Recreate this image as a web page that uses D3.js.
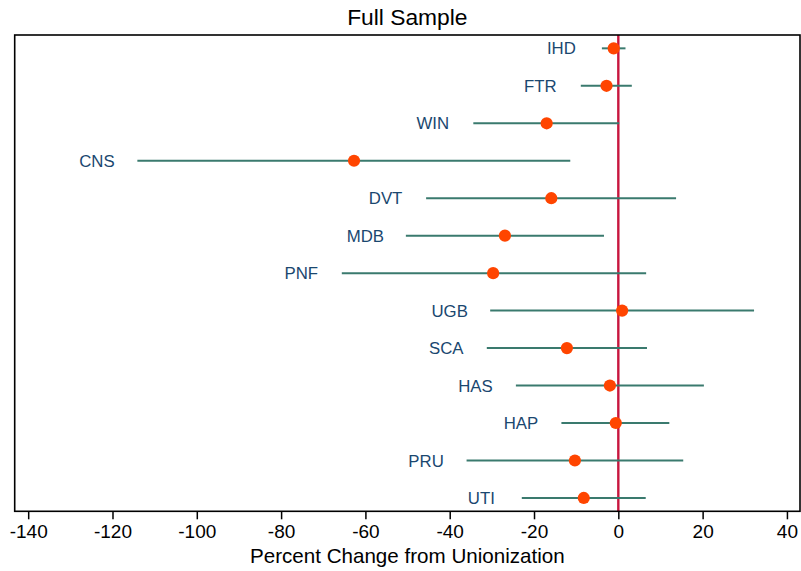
<!DOCTYPE html>
<html>
<head>
<meta charset="utf-8">
<script src="https://cdn.jsdelivr.net/npm/d3@7"></script>
<style>
  html, body { margin: 0; padding: 0; background: #fff; }
  svg { display: block; font-family: "Liberation Sans", Arial, Helvetica, sans-serif; }
</style>
</head>
<body>
<svg id="chart" width="801" height="571"></svg>
<script>
// Data
const outcomes  = ["IHD","FTR","WIN","CNS","DVT","MDB","PNF","UGB","SCA","HAS","HAP","PRU","UTI"];
const estimates = [-1.1, -2.8, -17.0, -62.7, -15.9, -26.9, -29.7, 0.9, -12.2, -2.0, -0.6, -10.3, -8.2];
const lowerCI   = [-3.9, -8.9, -34.4, -114.1, -45.6, -50.4, -65.6, -30.4, -31.2, -24.3, -13.5, -36.0, -22.9];
const upperCI   = [1.7, 3.2, 0.2, -11.4, 13.7, -3.4, 6.6, 32.2, 6.8, 20.3, 12.1, 15.4, 6.5];
const xTicks    = [-140, -120, -100, -80, -60, -40, -20, 0, 20, 40];
const titleText = "Full Sample";
const xLabel    = "Percent Change from Unionization";

const rows = outcomes.map((o, i) => ({ name: o, est: estimates[i], lo: lowerCI[i], hi: upperCI[i] }));

const svg = d3.select("#chart");
const L = 14.7, R = 800, T = 35, B = 511.3;

const x = d3.scaleLinear().domain([-143.2, 43.1]).range([L, R]);
const y = d3.scalePoint().domain(outcomes).range([T, B]).padding(0.356);

// Title
svg.append("text")
  .attr("x", (L + R) / 2).attr("y", 25)
  .attr("text-anchor", "middle")
  .attr("font-size", 22.8).attr("fill", "#000")
  .text(titleText);

// Reference line at zero
svg.append("line")
  .attr("x1", x(0)).attr("x2", x(0))
  .attr("y1", T).attr("y2", B)
  .attr("stroke", "#c8163e").attr("stroke-width", 2.4);

// Confidence intervals
svg.append("g").selectAll("line").data(rows).join("line")
  .attr("x1", d => x(d.lo)).attr("x2", d => x(d.hi))
  .attr("y1", d => y(d.name)).attr("y2", d => y(d.name))
  .attr("stroke", "#3a7a6e").attr("stroke-width", 2);

// Point estimates
svg.append("g").selectAll("circle").data(rows).join("circle")
  .attr("cx", d => x(d.est)).attr("cy", d => y(d.name))
  .attr("r", 6.1).attr("fill", "#ff4500");

// Labels
svg.append("g").selectAll("text").data(rows).join("text")
  .attr("x", d => x(d.lo) - 40.5).attr("y", d => y(d.name))
  .attr("dy", "0.36em")
  .attr("text-anchor", "middle")
  .attr("font-size", 16.8).attr("fill", "#1a476f")
  .text(d => d.name);

// Plot frame
svg.append("rect")
  .attr("x", L).attr("y", T).attr("width", R - L).attr("height", B - T)
  .attr("fill", "none").attr("stroke", "#000").attr("stroke-width", 1.6);

// X axis
const xAxis = d3.axisBottom(x).tickValues(xTicks).tickFormat(d => String(d))
  .tickSize(8).tickSizeOuter(0).tickPadding(5);
const gx = svg.append("g").attr("transform", `translate(0,${B})`).call(xAxis);
gx.select(".domain").remove();
gx.selectAll(".tick line").attr("stroke", "#000").attr("stroke-width", 1.5);
gx.selectAll(".tick text")
  .attr("font-size", 19).attr("fill", "#000")
  .attr("font-family", "'Liberation Sans', Arial, sans-serif");

// X axis title
svg.append("text")
  .attr("x", (L + R) / 2).attr("y", 563.3)
  .attr("text-anchor", "middle")
  .attr("font-size", 20.6).attr("fill", "#000")
  .text(xLabel);
</script>
</body>
</html>
